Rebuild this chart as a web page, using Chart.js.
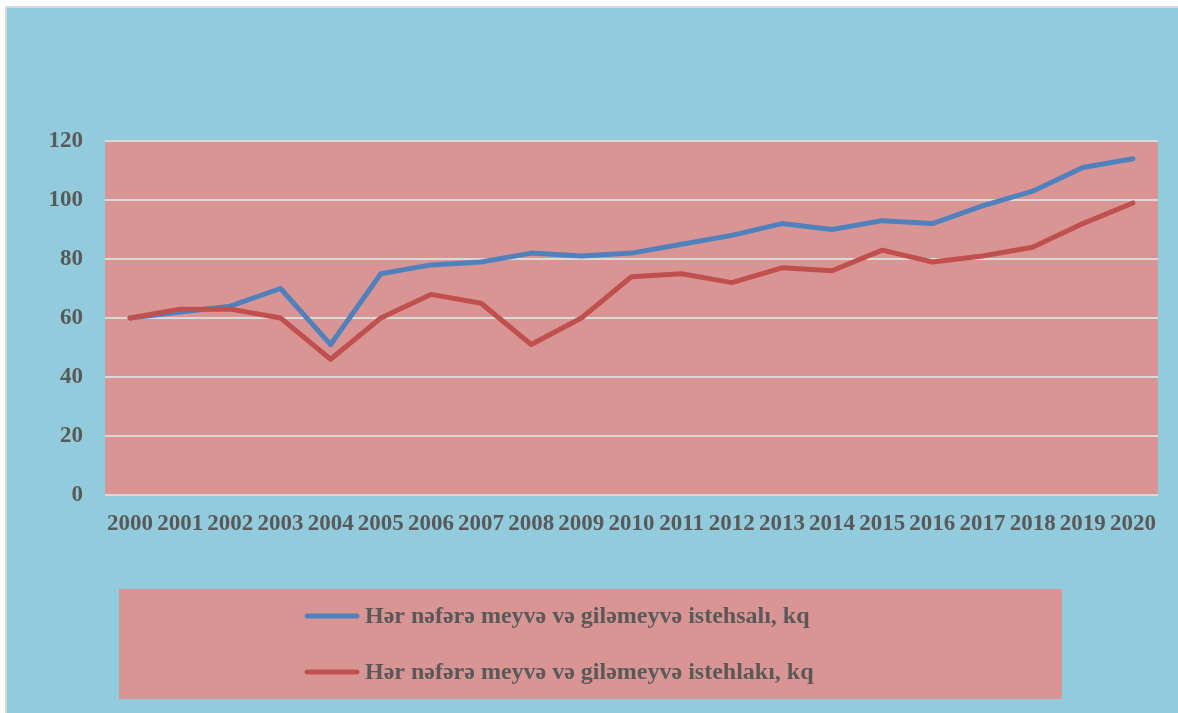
<!DOCTYPE html>
<html>
<head>
<meta charset="utf-8">
<script src="https://cdn.jsdelivr.net/npm/chart.js@4"></script>
<style>
  html, body { margin: 0; padding: 0; background: #fff; }
  #wrap { width: 1178px; height: 713px; }
</style>
</head>
<body>
<div id="wrap"><canvas id="myChart" width="1178" height="713"></canvas></div>
<script>
const years = ["2000", "2001", "2002", "2003", "2004", "2005", "2006", "2007", "2008", "2009", "2010",
  "2011", "2012", "2013", "2014", "2015", "2016", "2017", "2018", "2019", "2020"];
const production = [60, 62, 64, 70, 51, 75, 78, 79, 82, 81, 82, 85, 88, 92, 90, 93, 92, 98, 103, 111, 114];
const consumption = [60, 63, 63, 60, 46, 60, 68, 65, 51, 60, 74, 75, 72, 77, 76, 83, 79, 81, 84, 92, 99];
const seriesNames = [
  "Hər nəfərə meyvə və giləmeyvə istehsalı, kq",
  "Hər nəfərə meyvə və giləmeyvə istehlakı, kq",
];

const textColor = "#595959";
const fontFamily = "'Liberation Serif', 'Times New Roman', serif";

// backgrounds, frame and the boxed legend under the chart
const decor = {
  id: "decor",
  beforeDraw(chart) {
    const { ctx, chartArea: a, width, height } = chart;
    ctx.save();
    ctx.fillStyle = "#ffffff";
    ctx.fillRect(0, 0, width, height);
    ctx.fillStyle = "#92CBDC";
    ctx.fillRect(5, 6, width - 5, height - 6);
    ctx.fillStyle = "#D9D9D9";
    ctx.fillRect(5, 6, 2, height - 6);
    ctx.fillRect(5, 6, width - 5, 2);
    ctx.fillStyle = "#D99594";
    ctx.fillRect(a.left, a.top, a.right - a.left, a.bottom - a.top);
    ctx.restore();
  },
  afterDraw(chart) {
    const { ctx } = chart;
    ctx.save();
    ctx.fillStyle = "#D99594";
    ctx.fillRect(119, 589, 943, 110);
    chart.data.datasets.forEach((ds, i) => {
      const y = 616 + i * 56;
      ctx.strokeStyle = ds.borderColor;
      ctx.lineWidth = 5;
      ctx.lineCap = "round";
      ctx.beginPath();
      ctx.moveTo(307, y);
      ctx.lineTo(357, y);
      ctx.stroke();
      ctx.fillStyle = textColor;
      ctx.font = "bold 24px " + fontFamily;
      ctx.textBaseline = "middle";
      ctx.textAlign = "left";
      ctx.fillText(ds.label, 365, y + 1);
    });
    ctx.restore();
  },
};

const ctx = document.getElementById("myChart");

new Chart(ctx, {
  type: "line",
  data: {
    labels: years,
    datasets: [
      {
        label: seriesNames[0],
        data: production,
        borderColor: "#4F81BD",
        borderWidth: 5,
        pointRadius: 0,
        borderJoinStyle: "round",
        borderCapStyle: "round",
        tension: 0,
        order: 1,
      },
      {
        label: seriesNames[1],
        data: consumption,
        borderColor: "#C0504D",
        borderWidth: 5,
        pointRadius: 0,
        borderJoinStyle: "round",
        borderCapStyle: "round",
        tension: 0,
        order: 0,
      },
    ],
  },
  options: {
    responsive: false,
    animation: false,
    layout: {
      padding: { left: 0, right: 20, top: 141, bottom: 150 },
    },
    plugins: {
      legend: { display: false },
      tooltip: { enabled: false },
    },
    scales: {
      x: {
        offset: true,
        grid: { display: false, drawTicks: false },
        border: { display: false },
        ticks: {
          color: textColor,
          font: { family: fontFamily, size: 23, weight: "bold" },
          padding: 15,
          maxRotation: 0,
          autoSkip: false,
        },
        afterFit(scale) {
          scale.height = 68;
        },
      },
      y: {
        min: 0,
        max: 120,
        grid: {
          color: "#D9D9D9",
          lineWidth: 2,
          drawTicks: false,
        },
        border: { display: false },
        ticks: {
          stepSize: 20,
          color: textColor,
          font: { family: fontFamily, size: 23, weight: "bold" },
          padding: 22,
        },
        afterFit(scale) {
          scale.width = 105;
        },
      },
    },
  },
  plugins: [decor],
});
</script>
</body>
</html>
